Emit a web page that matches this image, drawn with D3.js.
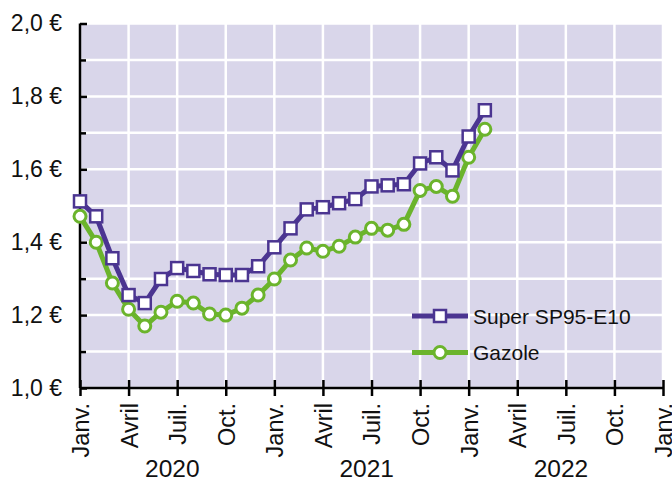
<!DOCTYPE html>
<html>
<head>
<meta charset="utf-8">
<script src="https://d3js.org/d3.v7.min.js"></script>
<style>
  body { margin: 0; background: #fff; }
  svg { display: block; font-family: "Liberation Sans", Arial, sans-serif; }
</style>
</head>
<body>
<div id="chart"></div>
<script>
// monthly prices, Jan 2020 -> Feb 2022
const months = ["2020-01","2020-02","2020-03","2020-04","2020-05","2020-06","2020-07","2020-08","2020-09","2020-10","2020-11","2020-12",
  "2021-01","2021-02","2021-03","2021-04","2021-05","2021-06","2021-07","2021-08","2021-09","2021-10","2021-11","2021-12",
  "2022-01","2022-02"];
const sp95 = [1.512,1.471,1.356,1.255,1.233,1.299,1.329,1.321,1.312,1.310,1.310,1.334,
  1.386,1.438,1.490,1.496,1.507,1.518,1.553,1.556,1.559,1.616,1.633,1.597,
  1.690,1.762];
const gazole = [1.471,1.400,1.288,1.216,1.170,1.208,1.238,1.233,1.203,1.200,1.219,1.255,
  1.299,1.351,1.384,1.375,1.389,1.414,1.438,1.433,1.449,1.542,1.553,1.526,
  1.633,1.710];
const quarterLabels = ["Janv.","Avril","Juil.","Oct."];
const years = ["2020","2021","2022"];
const yTicks = [1.0,1.2,1.4,1.6,1.8,2.0];

const width = 672, height = 479;
const margin = {top: 23.5, right: 9, bottom: 91, left: 80};

const parse = d3.timeParse("%Y-%m");
const x = d3.scaleLinear()   // month index scale so quarters are evenly spaced
    .domain([0, 36])
    .range([margin.left, width - margin.right]);
const monthIndex = s => { const d = parse(s); return (d.getFullYear() - 2020) * 12 + d.getMonth(); };
const y = d3.scaleLinear()
    .domain([1.0, 2.0])
    .range([height - margin.bottom, margin.top]);

const purple = "#4b3591", green = "#6bb42c";

const svg = d3.select("#chart").append("svg")
    .attr("width", width).attr("height", height);

// background
svg.append("rect")
    .attr("x", x(0)).attr("y", y(2.0))
    .attr("width", x(36) - x(0)).attr("height", y(1.0) - y(2.0))
    .attr("fill", "#d9d6ea");

// grid
const quarters = d3.range(0, 37, 3);
svg.append("g").selectAll("line").data(quarters).join("line")
    .attr("x1", d => x(d)).attr("x2", d => x(d))
    .attr("y1", y(2.0)).attr("y2", y(1.0))
    .attr("stroke", "#fff").attr("stroke-width", 2.5);
svg.append("g").selectAll("line").data(d3.range(10, 21).map(d => d / 10)).join("line")
    .attr("x1", x(0)).attr("x2", x(36))
    .attr("y1", d => y(d)).attr("y2", d => y(d))
    .attr("stroke", "#fff").attr("stroke-width", 2.5);

// y axis
const yMinor = svg.append("g")
    .attr("transform", `translate(${x(0)},0)`)
    .call(d3.axisLeft(y).tickValues([1.1,1.3,1.5,1.7,1.9]).tickSize(8).tickFormat(""));
yMinor.select(".domain").remove();
yMinor.selectAll(".tick line").attr("x2", 6).attr("stroke-width", 2.5);

const yAxis = svg.append("g")
    .attr("transform", `translate(${x(0)},0)`)
    .call(d3.axisLeft(y).tickValues(yTicks).tickSize(9).tickPadding(9)
        .tickFormat(d => d3.format(".1f")(d).replace(".", ",") + " €"));
yAxis.select(".domain").attr("stroke-width", 2.5).attr("d", `M0,${y(2.0)}V${y(1.0)}`);
yAxis.selectAll(".tick line").attr("x2", 7).attr("stroke-width", 2.5);
yAxis.selectAll("text").attr("font-size", 23).attr("fill", "#111");
yAxis.attr("font-family", null);

// x axis
const xAxis = svg.append("g")
    .attr("transform", `translate(0,${y(1.0)})`)
    .call(d3.axisBottom(x).tickValues(quarters).tickSize(8)
        .tickFormat(d => quarterLabels[(d / 3) % 4]));
xAxis.attr("font-family", null);
xAxis.select(".domain").attr("stroke-width", 2.5).attr("d", `M${x(0)},0H${x(36)}`);
xAxis.selectAll(".tick line").attr("y1", -8).attr("stroke-width", 2.5);
xAxis.selectAll("text")
    .attr("font-size", 23.5).attr("fill", "#111")
    .attr("text-anchor", "end")
    .attr("transform", "rotate(-90)")
    .attr("x", -15).attr("y", 0).attr("dy", "0.36em");

svg.append("g").selectAll("text").data(years).join("text")
    .attr("x", (d, i) => x(i * 12 + 5.7))
    .attr("y", 476.5)
    .attr("text-anchor", "middle")
    .attr("font-size", 24.5).attr("fill", "#111")
    .text(d => d);

// series
const series = [
  {name: "Super SP95-E10", values: sp95, color: purple, marker: "square"},
  {name: "Gazole", values: gazole, color: green, marker: "circle"}
];
const line = d3.line().x(d => x(d.m)).y(d => y(d.v));

series.slice().reverse().forEach(s => {
  const pts = months.map((m, i) => ({m: monthIndex(m), v: s.values[i]}));
  const g = svg.append("g");
  g.append("path").datum(pts)
      .attr("d", line).attr("fill", "none")
      .attr("stroke", s.color).attr("stroke-width", 5).attr("stroke-linejoin", "round");
  if (s.marker === "square") {
    g.selectAll("rect").data(pts).join("rect")
        .attr("x", d => x(d.m) - 6).attr("y", d => y(d.v) - 6)
        .attr("width", 12).attr("height", 12)
        .attr("fill", "#fff").attr("stroke", s.color).attr("stroke-width", 2.5);
  } else {
    g.selectAll("circle").data(pts).join("circle")
        .attr("cx", d => x(d.m)).attr("cy", d => y(d.v)).attr("r", 6)
        .attr("fill", "#fff").attr("stroke", s.color).attr("stroke-width", 3);
  }
});

// legend
const legend = svg.append("g").attr("transform", "translate(412,316)");
series.forEach((s, i) => {
  const g = legend.append("g").attr("transform", `translate(0,${i * 36.5})`);
  g.append("line").attr("x1", 0).attr("x2", 56)
      .attr("stroke", s.color).attr("stroke-width", 5);
  if (s.marker === "square") {
    g.append("rect").attr("x", 22).attr("y", -6).attr("width", 12).attr("height", 12)
        .attr("fill", "#fff").attr("stroke", s.color).attr("stroke-width", 2.5);
  } else {
    g.append("circle").attr("cx", 28).attr("r", 6)
        .attr("fill", "#fff").attr("stroke", s.color).attr("stroke-width", 3);
  }
  g.append("text").attr("x", 61).attr("dy", "0.36em")
      .attr("font-size", 21).attr("fill", "#111").text(s.name);
});
</script>
</body>
</html>
